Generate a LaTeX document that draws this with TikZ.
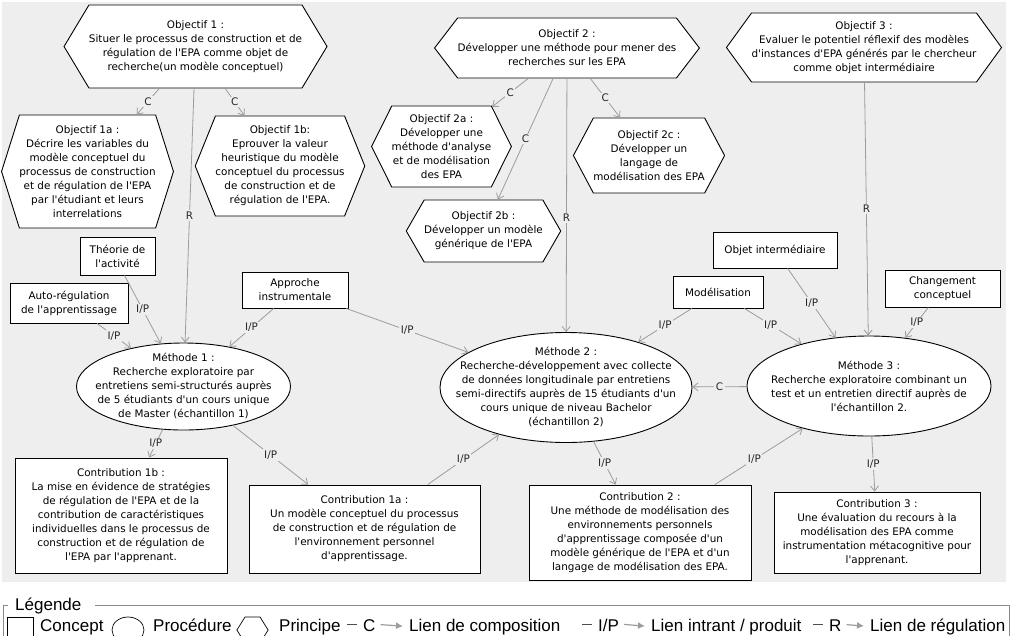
\documentclass[tikz,border=0pt]{standalone}
\usepackage{fontspec}
\setmainfont{DejaVu Sans}[Ligatures=TeXOff]
\newfontfamily\legfont{Liberation Sans}
\usetikzlibrary{shapes.geometric,shapes.symbols,arrows.meta}

\definecolor{fondgris}{HTML}{EEEEEE}
\definecolor{liengris}{HTML}{9C9C9C}
\definecolor{cadregris}{HTML}{8A8A8A}

\tikzset{
  concept/.style={draw, fill=white, line width=0.9pt, inner sep=-40pt, align=center},
  procedure/.style={draw, fill=white, line width=0.9pt, ellipse, inner sep=-60pt, align=center},
  principe/.style={draw, fill=white, line width=0.9pt, signal, signal to=west and east, inner sep=0pt, align=center},
  lien/.style={liengris, line width=0.8pt, -{Straight Barb[length=5pt,width=8pt]}},
  etiq/.style={fill=fondgris, text=black!85, inner sep=1.5pt},
  legtxt/.style={font=\legfont\fontsize{17}{20}\selectfont, anchor=base west, inner sep=0pt}
}

\begin{document}
\begin{tikzpicture}[x=1pt, y=-1pt, font=\fontsize{10.4}{14}\selectfont]
  \useasboundingbox (0,0) rectangle (1016,635);
  \fill[fondgris] (2,2) rectangle (1006,582);

  %% objectifs (principes)
  \node[principe, minimum height=83, signal pointer angle=118] (obj1) at (195.5,46.5)
    {Objectif 1 :\\Situer le processus de construction et de\\régulation de l'EPA comme objet de\\recherche(un modèle conceptuel)};
  \node[principe, minimum height=113, signal pointer angle=145] (obj1a) at (87.5,171.5)
    {Objectif 1a :\\Décrire les variables du\\modèle conceptuel du\\processus de construction\\et de régulation de l'EPA\\par l'étudiant et leurs\\interrelations};
  \node[principe, minimum height=100, signal pointer angle=136] (obj1b) at (280,166)
    {Objectif 1b:\\Eprouver la valeur\\heuristique du modèle\\conceptuel du processus\\de construction et de\\régulation de l'EPA.};
  \node[principe, minimum height=60, signal pointer angle=105] (obj2) at (567,48)
    {Objectif 2 :\\Développer une méthode pour mener des\\recherches sur les EPA};
  \node[principe, minimum height=81, signal pointer angle=127] (obj2a) at (441.5,146.5)
    {Objectif 2a :\\Développer une\\méthode d'analyse\\et de modélisation\\des EPA};
  \node[principe, minimum height=62, signal pointer angle=120] (obj2b) at (483.5,231)
    {Objectif 2b :\\Développer un modèle\\générique de l'EPA};
  \node[principe, minimum height=75, signal pointer angle=124] (obj2c) at (649,155.5)
    {Objectif 2c :\\Développer un\\langage de\\modélisation des EPA};
  \node[principe, minimum height=69, signal pointer angle=108] (obj3) at (864,47.5)
    {Objectif 3 :\\Evaluer le potentiel réflexif des modèles\\d'instances d'EPA générés par le chercheur\\comme objet intermédiaire};

  %% concepts
  \node[concept, minimum width=75, minimum height=38] (theorie) at (117.5,256) {Théorie de\\l'activité};
  \node[concept, minimum width=118, minimum height=40] (autoreg) at (69,303) {Auto-régulation\\de l'apprentissage};
  \node[concept, minimum width=106, minimum height=36] (approche) at (295,290) {Approche\\instrumentale};
  \node[concept, minimum width=90, minimum height=32] (modelis) at (718,292) {Modélisation};
  \node[concept, minimum width=124, minimum height=36] (objint) at (775,250) {Objet intermédiaire};
  \node[concept, minimum width=115, minimum height=37] (changt) at (942.5,288.5) {Changement\\conceptuel};

  %% methodes (procedures)
  \node[procedure, minimum width=214, minimum height=87] (meth1) at (183.5,386.5)
    {Méthode 1 :\\Recherche exploratoire par\\entretiens semi-structurés auprès\\de 5 étudiants d'un cours unique\\de Master (échantillon 1)};
  \node[procedure, minimum width=252, minimum height=110] (meth2) at (566,387.5)
    {Méthode 2 :\\Recherche-développement avec collecte\\de données longitudinale par entretiens\\semi-directifs auprès de 15 étudiants d'un\\cours unique de niveau Bachelor\\(échantillon 2)};
  \node[procedure, minimum width=244, minimum height=100] (meth3) at (869,386)
    {Méthode 3 :\\Recherche exploratoire combinant un\\test et un entretien directif auprès de\\l'échantillon 2.};

  %% contributions
  \node[concept, minimum width=212, minimum height=115] (contr1b) at (121,515.5)
    {Contribution 1b :\\La mise en évidence de stratégies\\de régulation de l'EPA et de la\\contribution de caractéristiques\\individuelles dans le processus de\\construction et de régulation de\\l'EPA par l'apprenant.};
  \node[concept, minimum width=231, minimum height=88] (contr1a) at (364.5,529)
    {Contribution 1a :\\Un modèle conceptuel du processus\\de construction et de régulation de\\l'environnement personnel\\d'apprentissage.};
  \node[concept, minimum width=222, minimum height=95] (contr2) at (640,532.5)
    {Contribution 2 :\\Une méthode de modélisation des\\environnements personnels\\d'apprentissage composée d'un\\modèle générique de l'EPA et d'un\\langage de modélisation des EPA.};
  \node[concept, minimum width=206, minimum height=81] (contr3) at (877,532.5)
    {Contribution 3 :\\Une évaluation du recours à la\\modélisation des EPA comme\\instrumentation métacognitive pour\\l'apprenant.};

  %% liens C et R
  \draw[lien] (obj1) -- node[etiq] {C} (obj1a);
  \draw[lien] (obj1) -- node[etiq] {C} (obj1b);
  \draw[lien] (obj1) -- node[etiq] {R} (meth1);
  \draw[lien] (obj2) -- node[etiq] {C} (obj2a);
  \draw[lien] (obj2) -- node[etiq] {C} (obj2b);
  \draw[lien] (obj2) -- node[etiq, pos=0.55] {R} (meth2);
  \draw[lien] (obj2) -- node[etiq] {C} (obj2c);
  \draw[lien] (obj3) -- node[etiq] {R} (meth3);
  \draw[lien] (meth3) -- node[etiq] {C} (meth2);

  %% liens I/P
  \draw[lien] (autoreg) -- node[etiq] {I/P} (meth1);
  \draw[lien] (theorie.-70) -- node[etiq] {I/P} (meth1);
  \draw[lien] (approche) -- node[etiq] {I/P} (meth1);
  \draw[lien] (approche) -- node[etiq] {I/P} (meth2);
  \draw[lien] (modelis) -- node[etiq] {I/P} (meth2);
  \draw[lien] (modelis) -- node[etiq, pos=0.46] {I/P} (meth3);
  \draw[lien] (objint) -- node[etiq] {I/P} (meth3);
  \draw[lien] (changt) -- node[etiq] {I/P} (meth3);
  \draw[lien] (meth1) -- node[etiq] {I/P} (contr1b);
  \draw[lien] (meth1) -- node[etiq] {I/P} (contr1a);
  \draw[lien] (contr1a) -- node[etiq] {I/P} (meth2);
  \draw[lien] (meth2) -- node[etiq] {I/P} (contr2);
  \draw[lien] (contr2) -- node[etiq, pos=0.45] {I/P} (meth3);
  \draw[lien] (meth3) -- node[etiq] {I/P} (contr3);

  %% legende
  \node[legtxt] (lgtitre) at (15,610) {Légende};
  \draw[cadregris, line width=0.8pt] (3,640) -- (3,605.5) -- (8,605.5);
  \draw[cadregris, line width=0.8pt] (95,605.5) -- (1009,605.5) -- (1009,640);
  \node[concept, line width=0.7pt, minimum width=26, minimum height=26] (lgcarre) at (20,630) {};
  \node[legtxt] (lgconcept) at (40,631.5) {Concept};
  \node[procedure, line width=0.7pt, minimum width=32, minimum height=26] (lgellipse) at (128,630) {};
  \node[legtxt] (lgproc) at (153,631.5) {Procédure};
  \node[principe, line width=0.7pt, minimum height=26, signal pointer angle=116] (lghexa) at (252.5,630) {\hspace*{15pt}};
  \node[legtxt] (lgprinc) at (279,631.5) {Principe};
  \node[legtxt] (lgc) at (363,631.5) {C};
  \node[legtxt] (lgcomp) at (409,631.5) {Lien de composition};
  \node[legtxt] (lgip) at (598,631.5) {I/P};
  \node[legtxt] (lgintrant) at (651,631.5) {Lien intrant / produit};
  \node[legtxt] (lgr) at (829,631.5) {R};
  \node[legtxt] (lgregul) at (870,631.5) {Lien de régulation};
  \foreach \lab/\txt in {lgc/lgcomp, lgip/lgintrant, lgr/lgregul} {
    \draw[black!70, line width=0.8pt] ([xshift=-16pt, yshift=1pt]\lab.west) -- ([xshift=-6pt, yshift=1pt]\lab.west);
    \draw[liengris, line width=1.2pt, -{Latex[length=7pt,width=7pt]}] ([xshift=5pt, yshift=1pt]\lab.east) -- ([xshift=-6pt, yshift=1pt]\txt.west);
  }
\end{tikzpicture}
\end{document}
